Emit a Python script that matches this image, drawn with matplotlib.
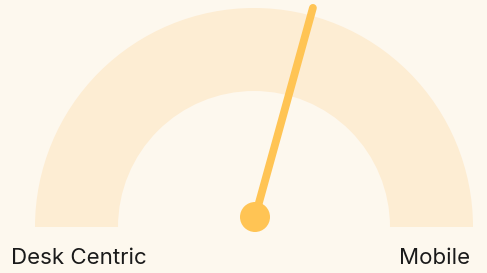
import numpy as np
import matplotlib.pyplot as plt
from matplotlib.patches import Wedge, Circle

# gauge data
value = 58.6
vmin, vmax = 0, 100
labels = ['Desk Centric', 'Mobile']

bg = '#FDF8EE'
arc_color = '#FDEDD3'
needle_color = '#FFC454'

W, H = 487, 273
fig = plt.figure(figsize=(W / 100, H / 100), dpi=100, facecolor=bg)
ax = fig.add_axes([0, 0, 1, 1])
ax.set_xlim(0, W)
ax.set_ylim(0, H)
ax.set_facecolor(bg)
ax.axis('off')

# band of the gauge
cx, cy = 254, 46
r_out, r_in = 219, 136
ax.add_patch(Wedge((cx, cy), r_out, 0, 180, width=r_out - r_in,
                   facecolor=arc_color, edgecolor='none'))

# needle
px, py = 255, 56
length = 217
ang = np.radians(180 - (value - vmin) / (vmax - vmin) * 180)
ax.plot([px, px + length * np.cos(ang)], [py, py + length * np.sin(ang)],
        color=needle_color, lw=5.6, solid_capstyle='round', zorder=3)
ax.add_patch(Circle((px, py), 15, facecolor=needle_color, edgecolor='none', zorder=4))

ax.text(11, 8.5, labels[0], fontsize=16, family='Inter', color='#1a1a1a',
        ha='left', va='baseline')
ax.text(470, 8.5, labels[1], fontsize=16, family='Inter', color='#1a1a1a',
        ha='right', va='baseline')

fig.savefig('out.png', dpi=100, facecolor=bg)
